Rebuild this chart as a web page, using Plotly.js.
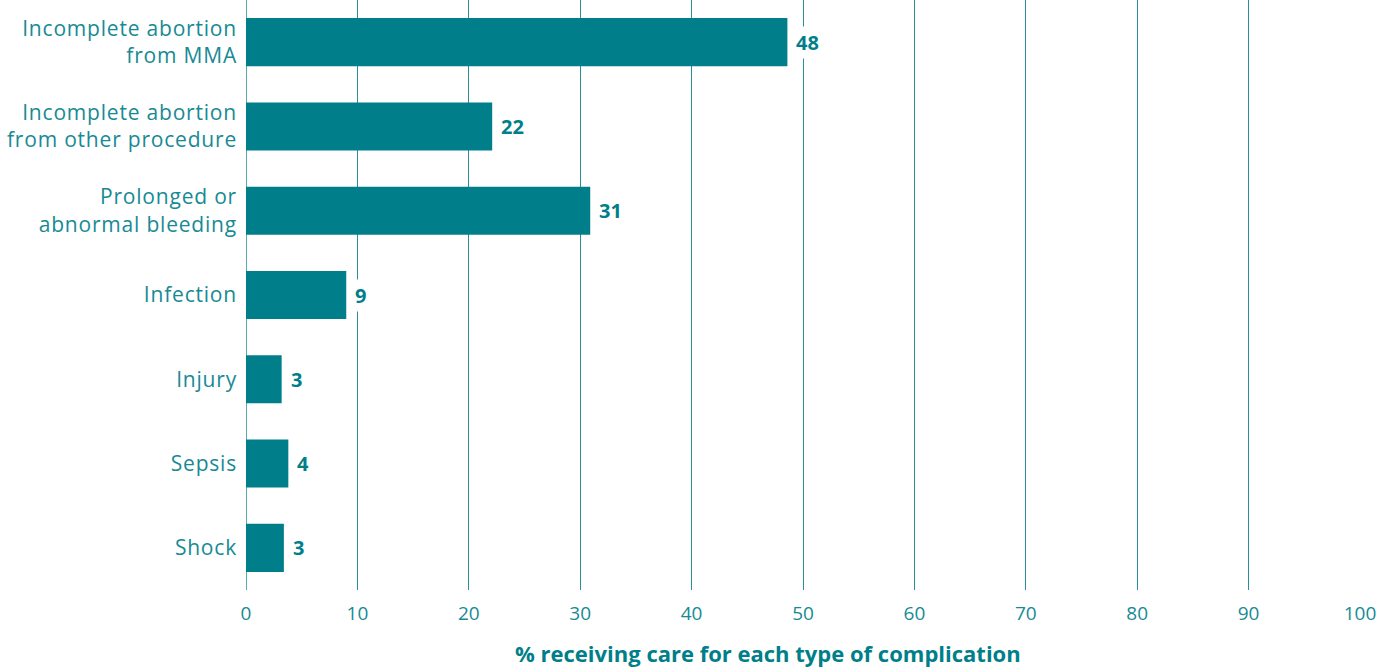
<!DOCTYPE html>
<html><head><meta charset="utf-8">
<script src="https://cdn.plot.ly/plotly-3.0.1.min.js"></script>
<style>html,body{margin:0;padding:0;background:#fff}#chart{width:1379px;height:669px}
.ytick text{letter-spacing:0.8px}</style>
</head><body><div id="chart"></div>
<script>
var categories = ["Incomplete abortion<br>from MMA","Incomplete abortion<br>from other procedure","Prolonged or<br>abnormal bleeding","Infection","Injury","Sepsis","Shock"];
var values = [48.6, 22.1, 30.9, 9.0, 3.2, 3.8, 3.4];
var valueLabels = ["48","22","31","9","3","4","3"];
var xTicks = [0,10,20,30,40,50,60,70,80,90,100];
var xTitle = "% receiving care for each type of complication";

var teal = "#007f8a";
var textTeal = "#178a94";

var annotations = values.map(function(v,i){
  return {x:v, y:categories[i], xref:'x', yref:'y', text:'<b>'+valueLabels[i]+'</b>',
    showarrow:false, xanchor:'left', xshift:6, bgcolor:'#ffffff', borderpad:2,
    font:{family:'Open Sans, sans-serif', size:20, color:teal}};
});
annotations.push({xref:'paper', yref:'paper', x:0.4686, y:0, yshift:-63, yanchor:'middle',
  text:'<b>'+xTitle+'</b>', showarrow:false,
  font:{family:'Open Sans, sans-serif', size:22, color:teal}});

Plotly.newPlot('chart', [{
  type:'bar', orientation:'h', x:values, y:categories,
  marker:{color:teal}, width:0.57, hoverinfo:'none'
}], {
  width:1379, height:669,
  margin:{l:246, r:19, t:0, b:79},
  paper_bgcolor:'#fff', plot_bgcolor:'#fff',
  showlegend:false,
  xaxis:{range:[0,100], tickvals:xTicks, ticktext:xTicks.map(String),
    showgrid:true, gridcolor:'#2a8e98', gridwidth:1, zeroline:true, zerolinecolor:'#5aa9b1', zerolinewidth:1,
    showline:false, ticks:'', ticklabelstandoff:10,
    tickfont:{family:'Open Sans, sans-serif', size:19, color:textTeal}, fixedrange:true},
  yaxis:{autorange:'reversed', showgrid:false, zeroline:false, showline:false, ticks:'',
    ticklabelstandoff:8,
    tickfont:{family:'Open Sans, sans-serif', size:21, color:textTeal}, fixedrange:true},
  annotations:annotations
}, {displayModeBar:false, staticPlot:true});
</script></body></html>
